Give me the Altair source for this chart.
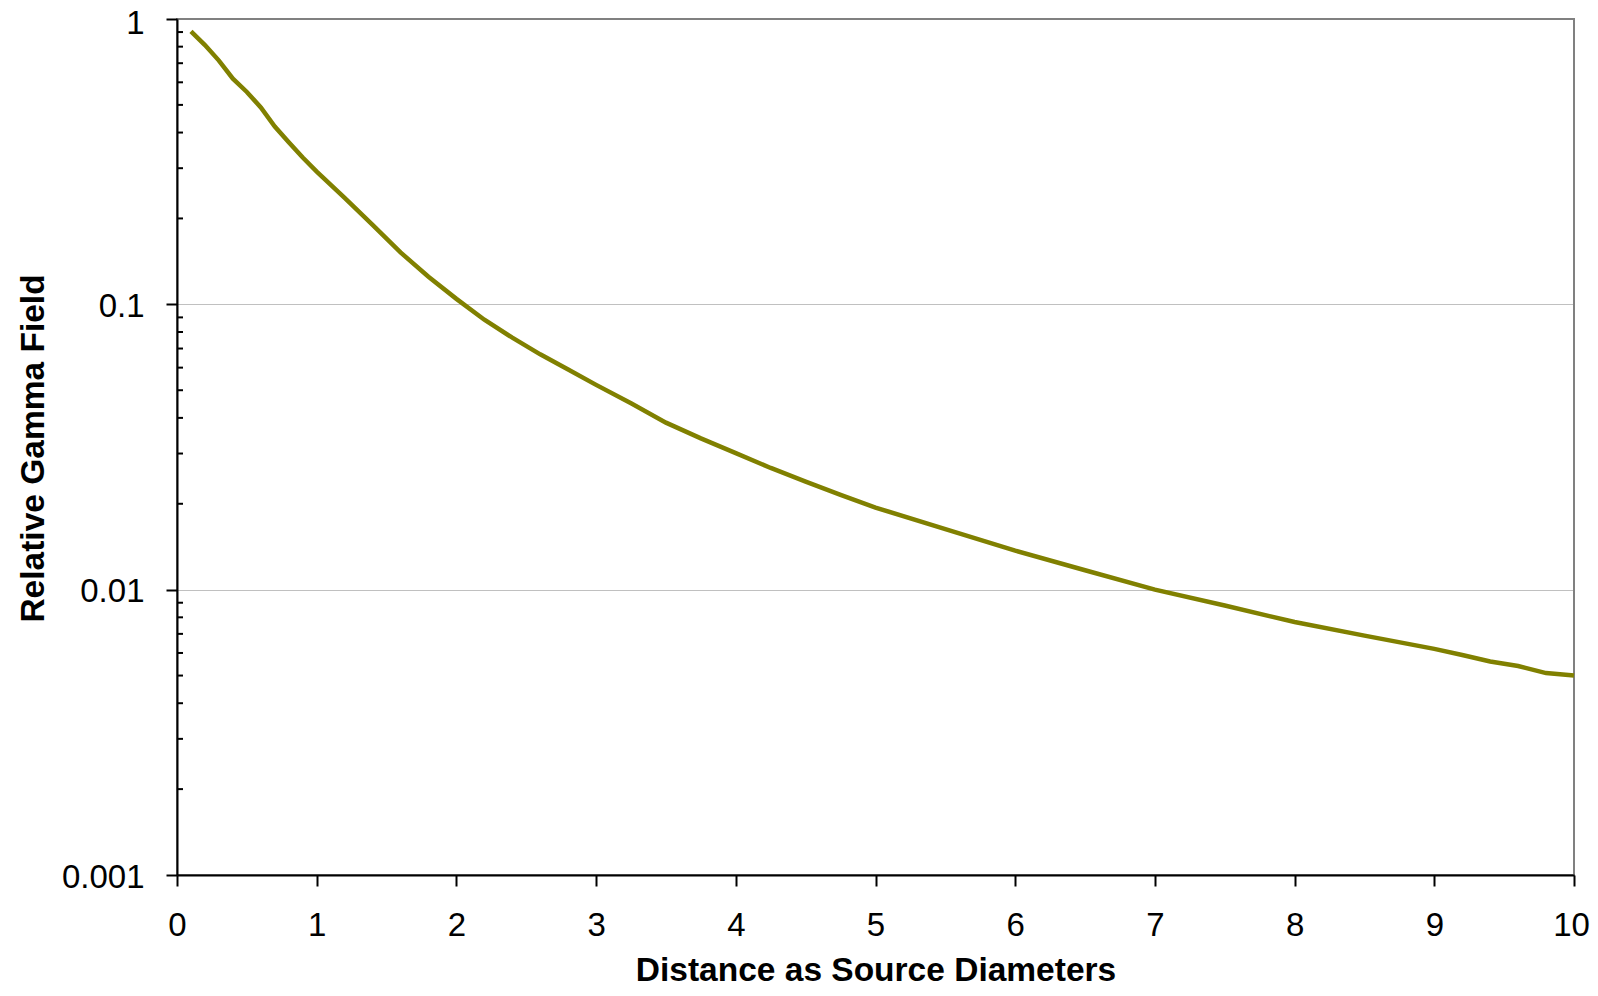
import altair as alt
import pandas as pd

# Data
distance = [0.1, 0.2, 0.3, 0.4, 0.5, 0.6, 0.7, 0.8, 0.9, 1.0,
            1.2, 1.4, 1.6, 1.8, 2.0, 2.2, 2.4, 2.6, 2.8, 3.0,
            3.25, 3.5, 3.75, 4.0, 4.25, 4.5, 4.75, 5.0, 5.5, 6.0,
            6.5, 7.0, 7.5, 8.0, 8.5, 9.0, 9.2, 9.4, 9.6, 9.8, 10.0]
field = [0.905, 0.81, 0.715, 0.618, 0.555, 0.49, 0.42, 0.37, 0.327, 0.292,
         0.236, 0.19, 0.152, 0.125, 0.1045, 0.0883, 0.0764, 0.0668, 0.0591, 0.0522,
         0.045, 0.0385, 0.0339, 0.0301, 0.0267, 0.0239, 0.0215, 0.0194, 0.0163, 0.0137,
         0.0117, 0.0100, 0.0088, 0.0077, 0.0069, 0.0062, 0.0059, 0.0056, 0.0054, 0.0051, 0.0050]

x_ticks = [0, 1, 2, 3, 4, 5, 6, 7, 8, 9, 10]
major_ticks = [0.001, 0.01, 0.1, 1]
minor_ticks = [0.002, 0.003, 0.004, 0.005, 0.006, 0.007, 0.008, 0.009,
               0.02, 0.03, 0.04, 0.05, 0.06, 0.07, 0.08, 0.09,
               0.2, 0.3, 0.4, 0.5, 0.6, 0.7, 0.8, 0.9]

df = pd.DataFrame({"distance": distance, "field": field})
minor_df = pd.DataFrame({"v": minor_ticks})

FONT = "Liberation Sans"
LABEL_SIZE = 33
TITLE_SIZE = 33.5

x_scale = alt.Scale(domain=[0, 10], nice=False, zero=False)
y_scale = alt.Scale(type="log", domain=[0.001, 1], nice=False)

y_axis = alt.Axis(
    values=major_ticks, format="~g",
    grid=True, gridColor="#808080", gridWidth=1, gridDash=[1, 1],
    title="Relative Gamma Field",
    tickSize=11, tickWidth=2, tickColor="black",
    domainColor="black", domainWidth=2,
    labelFont=FONT, labelFontSize=LABEL_SIZE, labelColor="black",
    labelPadding=22, labelFlush=False, labelOverlap=False,
    labelBaseline="alphabetic",
    labelOffset={"condition": {"test": "datum.value == 1", "value": 14}, "value": 12},
    titleFont=FONT, titleFontSize=TITLE_SIZE, titleFontWeight="bold",
    titleColor="black", titleAngle=270, titleX=-134, titleY=429,
    titleBaseline="alphabetic", titleAlign="center",
)

x_axis = alt.Axis(
    values=x_ticks, format="d", grid=False,
    title="Distance as Source Diameters",
    tickSize=11, tickWidth=2, tickColor="black",
    domainColor="black", domainWidth=2,
    labelFont=FONT, labelFontSize=LABEL_SIZE, labelColor="black",
    labelPadding=49, labelBaseline="alphabetic",
    labelFlush=False, labelOverlap=False,
    labelOffset={"condition": {"test": "datum.value == 10", "value": -3}, "value": 0},
    titleFont=FONT, titleFontSize=TITLE_SIZE, titleFontWeight="bold",
    titleColor="black", titleY=105, titleBaseline="alphabetic",
)

line = alt.Chart(df).mark_line(color="#808000", strokeWidth=4.5).encode(
    x=alt.X("distance:Q", scale=x_scale, axis=x_axis),
    y=alt.Y("field:Q", scale=y_scale, axis=y_axis),
)

minor = alt.Chart(minor_df).mark_rule(color="black", strokeWidth=2).encode(
    y=alt.Y("v:Q", scale=y_scale, axis=y_axis),
    x=alt.value(0),
    x2=alt.value(6),
)

chart = alt.layer(line, minor).properties(
    width=1397,
    height=856,
    background="white",
    autosize=alt.AutoSizeParams(type="none"),
    padding={"left": 169, "top": 11, "right": 16, "bottom": 112},
).configure_view(
    stroke="#808080", strokeWidth=2
)

chart.save("out.html", embed_options={"renderer": "svg", "actions": False})
